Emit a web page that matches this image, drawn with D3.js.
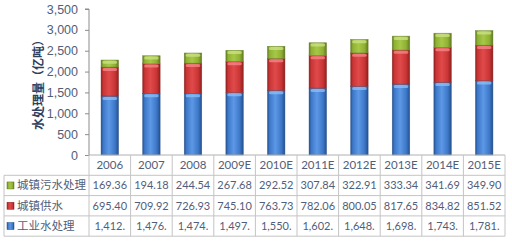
<!DOCTYPE html>
<html lang="zh">
<head>
<meta charset="UTF-8">
<title>水处理量</title>
<script src="https://d3js.org/d3.v7.min.js"></script>
<style>
  body { margin: 0; background: #fff; }
</style>
</head>
<body>
<div id="chart"></div>
<script>
    // data
    const years = ["2006", "2007", "2008", "2009E", "2010E", "2011E", "2012E", "2013E", "2014E", "2015E"];
    const sewage = [169.36, 194.18, 244.54, 267.68, 292.52, 307.84, 322.91, 333.34, 341.69, 349.90];
    const supply = [695.40, 709.92, 726.93, 745.10, 763.73, 782.06, 800.05, 817.65, 834.82, 851.52];
    const industry = [1412, 1476, 1474, 1497, 1550, 1602, 1648, 1698, 1743, 1781];
    const yTicks = [0, 500, 1000, 1500, 2000, 2500, 3000, 3500];

    // series from bottom to top
    const series = [
        {name: "工业水处理", values: industry, fmt: v => d3.format(",")(v) + ".", dark: "#244f8c", mid: "#3d78c8", light: "#5c98e6", cap: "#8ec0f5"},
        {name: "城镇供水", values: supply, fmt: d3.format(".2f"), dark: "#8e2020", mid: "#c93434", light: "#e04a4a", cap: "#f58a8a"},
        {name: "城镇污水处理", values: sewage, fmt: d3.format(".2f"), dark: "#607a22", mid: "#8fb032", light: "#a6c848", cap: "#cde38a"}
    ];
    const tableOrder = [series[2], series[1], series[0]];

    const W = 512, H = 243;
    const plotLeft = 89, plotRight = 505, plotTop = 9, base = 155;
    const rowH = 20.3;
    const textColor = '#515e7a';

    const svg = d3.select('#chart').append('svg')
        .attr('width', W).attr('height', H)
        .style('font-family', 'Lato, "Noto Sans CJK SC", sans-serif');

    const defs = svg.append('defs');
    series.forEach((s, i) => {
        const g = defs.append('linearGradient').attr('id', 'g' + i)
            .attr('x1', 0).attr('x2', 1).attr('y1', 0).attr('y2', 0);
        [[0, s.dark], [0.12, s.mid], [0.45, s.light], [0.8, s.mid], [1, s.dark]].forEach(d =>
            g.append('stop').attr('offset', d[0]).attr('stop-color', d[1]));
    });

    const x = d3.scaleBand().domain(years).range([plotLeft, plotRight]);
    const y = d3.scaleLinear().domain([0, 3500]).range([base, plotTop]);

    // y axis
    const yAxis = svg.append('g')
        .attr('transform', `translate(${plotLeft},0)`)
        .call(d3.axisLeft(y).tickValues(yTicks).tickFormat(d3.format(",")).tickSize(4).tickPadding(7));
    yAxis.select('.domain').attr('stroke', '#8c8c8c').attr('d', `M-4,${plotTop}H0V${base}`);
    yAxis.selectAll('.tick line').attr('stroke', '#8c8c8c');
    yAxis.selectAll('.tick text').attr('fill', textColor).style('font-size', '12.5px');

    // axis title
    svg.append('text')
        .attr('transform', 'translate(43,82) rotate(-90)')
        .attr('text-anchor', 'middle')
        .attr('fill', '#2e3f60')
        .style('font-family', '"Noto Sans CJK SC", sans-serif')
        .style('font-size', '12px')
        .style('font-weight', 'bold')
        .text('水处理量（亿吨）');

    // stacked bars
    const stack = d3.stack().keys([0, 1, 2]).value((d, k) => series[k].values[d]);
    const stacked = stack(d3.range(years.length));
    const bw = x.bandwidth() * 0.42;

    stacked.forEach((layer, k) => {
        const g = svg.append('g');
        layer.forEach((d, i) => {
            const bx = x(years[i]) + (x.bandwidth() - bw) / 2;
            const y0 = y(d[0]), y1 = y(d[1]);
            g.append('rect')
                .attr('x', bx).attr('y', y1)
                .attr('width', bw).attr('height', y0 - y1)
                .attr('fill', `url(#g${k})`)
                .attr('stroke', series[k].dark).attr('stroke-width', 0.6).attr('stroke-opacity', 0.7);
            g.append('rect')
                .attr('x', bx + 1.5).attr('y', y1 + 0.8)
                .attr('width', bw - 3).attr('height', 3)
                .attr('rx', 1.5)
                .attr('fill', series[k].cap).attr('opacity', 0.75);
        });
    });

    // data table
    const tbl = svg.append('g');
    const lineColor = '#c4c4c4';
    const rowTop = base + rowH; // first data row top
    const nRows = tableOrder.length;
    const tblBottom = rowTop + nRows * rowH;

    // base line under the bars
    tbl.append('line')
        .attr('x1', plotLeft).attr('x2', plotRight)
        .attr('y1', base).attr('y2', base)
        .attr('stroke', '#b0b0b0');

    // horizontal lines
    d3.range(nRows + 1).forEach(r => {
        tbl.append('line')
            .attr('x1', 4).attr('x2', plotRight)
            .attr('y1', rowTop + r * rowH).attr('y2', rowTop + r * rowH)
            .attr('stroke', lineColor);
    });
    // vertical lines
    years.forEach(yr => {
        tbl.append('line')
            .attr('x1', x(yr) + x.bandwidth()).attr('x2', x(yr) + x.bandwidth())
            .attr('y1', base).attr('y2', tblBottom)
            .attr('stroke', lineColor);
    });
    tbl.append('line').attr('x1', plotLeft).attr('x2', plotLeft).attr('y1', base).attr('y2', tblBottom).attr('stroke', lineColor);
    tbl.append('line').attr('x1', 4).attr('x2', 4).attr('y1', rowTop).attr('y2', tblBottom).attr('stroke', lineColor);

    // year header
    tbl.selectAll('.yr').data(years).join('text')
        .attr('x', d => x(d) + x.bandwidth() / 2)
        .attr('y', base + rowH / 2)
        .attr('dy', '0.35em')
        .attr('text-anchor', 'middle')
        .attr('fill', textColor)
        .style('font-size', '11.5px')
        .text(d => d);

    tableOrder.forEach((s, r) => {
        const cy = rowTop + r * rowH + rowH / 2;
        const k = series.indexOf(s);
        tbl.append('rect')
            .attr('x', 7).attr('y', cy - 3.5)
            .attr('width', 7).attr('height', 7)
            .attr('fill', `url(#g${k})`)
            .attr('stroke', s.dark).attr('stroke-width', 0.5);
        tbl.append('text')
            .attr('x', 17).attr('y', cy).attr('dy', '0.35em')
            .attr('fill', textColor)
            .style('font-family', '"Noto Sans CJK SC", sans-serif')
            .style('font-size', '11.5px')
            .text(s.name);
        tbl.selectAll(null).data(s.values).join('text')
            .attr('x', (d, i) => x(years[i]) + x.bandwidth() / 2)
            .attr('y', cy).attr('dy', '0.35em')
            .attr('text-anchor', 'middle')
            .attr('fill', textColor)
            .style('font-size', '11px')
            .text(d => s.fmt(d));
    });
</script>
</body>
</html>
